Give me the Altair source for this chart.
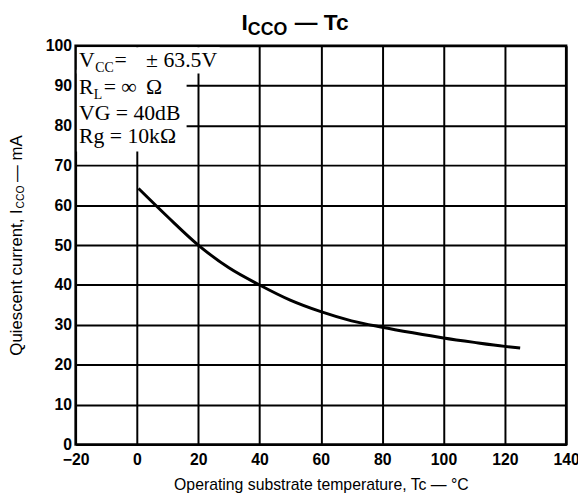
import altair as alt
import pandas as pd

# ---- data ----
temp_c = [0.5, 10, 20, 30, 40, 50, 60, 70, 80, 90, 100, 110, 120, 125]
icco_ma = [64.2, 57.1, 50.0, 44.3, 40.0, 36.2, 33.3, 31.0, 29.4, 28.0, 26.7, 25.6, 24.6, 24.2]

x_ticks = [-20, 0, 20, 40, 60, 80, 100, 120, 140]
y_ticks = [0, 10, 20, 30, 40, 50, 60, 70, 80, 90, 100]

# condition box text pieces: text, row value (y), pixel offset, font size, subscript shift
cond_text = ["V", "CC", "=", "± 63.5V", "R", "L", "= ∞", "Ω", "VG = 40dB", "Rg = 10kΩ"]
cond_y = [94.6, 94.6, 94.6, 94.6, 87.9, 87.9, 87.9, 87.9, 81.4, 75.5]
cond_dx = [0, 16.5, 36, 68, 0, 15, 25, 68, 0, 0]
cond_size = [22, 14, 22, 22, 22, 14, 22, 22, 22, 22]
cond_dy = [0, 5, 0, 0, 0, 5, 0, 0, 0, 0]
cond_x = -18.9

curve = pd.DataFrame({"t": temp_c, "i": icco_ma})

SANS = "Liberation Sans"
SERIF = "Liberation Serif"

xscale = alt.Scale(domain=[-20, 140], nice=False, zero=False)
yscale = alt.Scale(domain=[0, 100], nice=False)

line = alt.Chart(curve).mark_line(color="black", strokeWidth=3, interpolate="monotone").encode(
    x=alt.X("t:Q", scale=xscale,
            axis=alt.Axis(values=x_ticks, grid=True, gridColor="black", gridWidth=2, gridOpacity=1,
                          domain=False, ticks=False, tickSize=0, labelFlush=False,
                          labelFont=SANS, labelFontWeight="bold", labelFontSize=16, labelColor="black",
                          labelPadding=7,
                          title="Operating substrate temperature, Tc — °C",
                          titleFont=SANS, titleFontWeight="normal", titleFontSize=16, titleColor="black",
                          titleBaseline="alphabetic", titleY=46)),
    y=alt.Y("i:Q", scale=yscale,
            axis=alt.Axis(values=y_ticks, grid=True, gridColor="black", gridWidth=2, gridOpacity=1,
                          domain=False, ticks=False, tickSize=0, labelFlush=False,
                          labelFont=SANS, labelFontWeight="bold", labelFontSize=16, labelColor="black",
                          labelPadding=4, title=None)),
)

# white box behind the condition text
box = pd.DataFrame({"x1": [-19.6, -19.6], "x2": [27, 16.2], "y1": [93.0, 73.5], "y2": [99.6, 94.0]})
boxes = alt.Chart(box).mark_rect(color="white", strokeWidth=0).encode(
    x=alt.X("x1:Q", scale=xscale), x2="x2:Q",
    y=alt.Y("y1:Q", scale=yscale), y2="y2:Q")

layers = [boxes, line]
for txt, yv, dx, size, dy in zip(cond_text, cond_y, cond_dx, cond_size, cond_dy):
    piece = pd.DataFrame({"x": [cond_x], "y": [yv], "s": [txt]})
    layers.append(alt.Chart(piece).mark_text(font=SERIF, fontSize=size, align="left",
                                             baseline="alphabetic", dx=dx, dy=dy, color="black").encode(
        x=alt.X("x:Q", scale=xscale), y=alt.Y("y:Q", scale=yscale), text="s:N"))

# chart title  I_CCO — Tc
one = pd.DataFrame({"a": [0]})
layers.append(alt.Chart(one).mark_text(text="I", font=SANS, fontWeight="bold", fontSize=23, align="left",
                                       baseline="alphabetic", color="black").encode(
    x=alt.value(168), y=alt.value(-16)))
layers.append(alt.Chart(one).mark_text(text="CCO", font=SANS, fontWeight="bold", fontSize=18, align="left",
                                       baseline="alphabetic", color="black").encode(
    x=alt.value(174.5), y=alt.value(-11)))
layers.append(alt.Chart(one).mark_text(text="— Tc", font=SANS, fontWeight="bold", fontSize=23, align="left",
                                       baseline="alphabetic", color="black").encode(
    x=alt.value(222), y=alt.value(-16)))

# y axis title  Quiescent current, I_CCO — mA  (rotated)
for txt, size, dx, dy in [("Quiescent current, I", 17, 0, 0), ("CCO", 10.5, 149, 2), ("— mA", 17, 176, 0)]:
    layers.append(alt.Chart(one).mark_text(text=txt, font=SANS, fontSize=size, angle=270, align="left",
                                           baseline="alphabetic", dx=dx, dy=dy, color="black").encode(
        x=alt.value(-54.5), y=alt.value(314)))

chart = alt.layer(*layers).properties(
    width=497, height=404,
    autosize=alt.AutoSizeParams(type="none"),
    padding={"left": 68.5, "top": 35, "right": 12, "bottom": 48},
    background="white",
).configure_view(stroke="black", strokeWidth=2.5)

chart.save("out.html", embed_options={"renderer": "svg", "actions": False})
